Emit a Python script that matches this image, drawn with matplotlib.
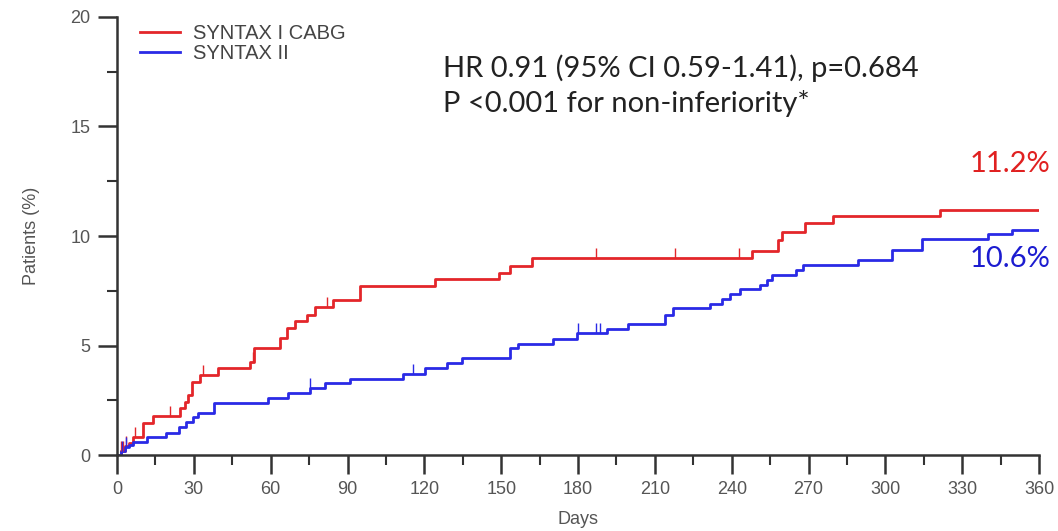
import numpy as np
import matplotlib
matplotlib.use("Agg")
import matplotlib.pyplot as plt
from matplotlib.ticker import MultipleLocator

# step curves (day, cumulative %)
red_days = [0, 1.5, 3, 4.5, 6.3, 10.3, 14.2, 24.6, 26.5, 27.8, 29.1, 32.4, 39.5, 52, 53.5,
            63.6, 66.3, 69.5, 74.1, 77.3, 84.5, 94.9, 124, 149, 153.5, 162, 248, 258.2,
            259.5, 268.6, 279.7, 321.4, 360]
red_pct = [0, 0.2, 0.4, 0.55, 0.84, 1.45, 1.78, 2.13, 2.43, 2.74, 3.35, 3.65, 3.96, 4.26, 4.87,
           5.33, 5.8, 6.13, 6.39, 6.77, 7.08, 7.72, 8.02, 8.33, 8.63, 8.98, 9.33, 9.8,
           10.2, 10.58, 10.91, 11.2, 11.2]
red_censor = [1.5, 2.5, 3.5, 7, 20.7, 33.6, 53.1, 81.9, 187, 218, 243]

blue_days = [0, 1.5, 3, 4.5, 6.4, 11.6, 19, 24.3, 27, 29.5, 31.8, 38, 58.8, 66.9, 75.4, 81.2,
             91, 111.8, 120.3, 129, 134.6, 153.5, 156.7, 170.4, 179.5, 191.2, 199.7, 214,
             217.2, 231.6, 236.1, 239.4, 243.3, 251.1, 253.7, 255.6, 265, 268, 289.5, 302.5,
             314.2, 340.2, 349.4, 360]
blue_pct = [0, 0.2, 0.35, 0.45, 0.61, 0.81, 1.02, 1.27, 1.52, 1.75, 1.9, 2.37, 2.59, 2.83, 3.06,
            3.28, 3.48, 3.7, 3.97, 4.19, 4.41, 4.87, 5.08, 5.28, 5.56, 5.75, 5.98, 6.39,
            6.7, 6.89, 7.11, 7.35, 7.57, 7.76, 7.99, 8.2, 8.45, 8.68, 8.9, 9.36,
            9.85, 10.08, 10.27, 10.27]
blue_censor = [2, 3.5, 75.4, 115.6, 180, 187, 188.5]

series_names = ["SYNTAX I CABG", "SYNTAX II"]
end_labels = ["11.2%", "10.6%"]
stats_lines = ["HR 0.91 (95% CI 0.59-1.41), p=0.684", "P <0.001 for non-inferiority*"]

RED = "#e3262a"
BLUE = "#2a2ae6"
GRAY = "#555555"
AX = "#333333"


def level_at(days, pct, t):
    i = np.searchsorted(days, t, side="right") - 1
    return np.asarray(pct)[i]


fig = plt.figure(figsize=(10.58, 5.31), dpi=100)
ax = fig.add_axes([0.1106, 0.1431, 0.8715, 0.8249])

ax.step(red_days, red_pct, where="post", color=RED, lw=2.0, label=series_names[0])
ax.step(blue_days, blue_pct, where="post", color=BLUE, lw=2.0, label=series_names[1])

# censoring marks
ax.plot(red_censor, level_at(red_days, red_pct, red_censor), ls="none",
        marker=2, ms=7, mew=1.0, color=RED)
ax.plot(blue_censor, level_at(blue_days, blue_pct, blue_censor), ls="none",
        marker=2, ms=7, mew=1.0, color=BLUE)

ax.set_xlim(0, 360)
ax.set_ylim(0, 20)
ax.xaxis.set_major_locator(MultipleLocator(30))
ax.xaxis.set_minor_locator(MultipleLocator(15))
ax.yaxis.set_major_locator(MultipleLocator(5))
ax.yaxis.set_minor_locator(MultipleLocator(2.5))

for s in ["top", "right"]:
    ax.spines[s].set_visible(False)
for s in ["left", "bottom"]:
    ax.spines[s].set_color(AX)
    ax.spines[s].set_linewidth(1.8)

ax.tick_params(which="major", length=14, width=1.8, color=AX, labelcolor=GRAY,
               labelsize=13, pad=5)
ax.tick_params(which="minor", length=7, width=1.5, color=AX)
for lab in ax.get_xticklabels() + ax.get_yticklabels():
    lab.set_family("Liberation Sans")

ax.set_xlabel("Days", fontsize=13, color=GRAY, family="Liberation Sans", labelpad=9)
ax.set_ylabel("Patients (%)", fontsize=13, color=GRAY, family="Liberation Sans", labelpad=22)

leg = ax.legend(loc="upper left", bbox_to_anchor=(0.025, 0.985), frameon=False,
                prop={"family": "Liberation Sans", "size": 14.5}, handlelength=2.0,
                handletextpad=0.65, labelspacing=0.05, borderaxespad=0, borderpad=0)
for t in leg.get_texts():
    t.set_color("#444444")

ax.text(0.354, 0.863, stats_lines[0], transform=ax.transAxes, fontsize=21,
        family="Lato", color="#222222", va="baseline")
ax.text(0.354, 0.783, stats_lines[1], transform=ax.transAxes, fontsize=21,
        family="Lato", color="#222222", va="baseline")

ax.text(1.012, 0.647, end_labels[0], transform=ax.transAxes, fontsize=21,
        family="Lato", color="#e02020", ha="right", va="baseline", clip_on=False)
ax.text(1.012, 0.43, end_labels[1], transform=ax.transAxes, fontsize=21,
        family="Lato", color="#1c1cd0", ha="right", va="baseline", clip_on=False)

fig.savefig("out.png", dpi=100)
